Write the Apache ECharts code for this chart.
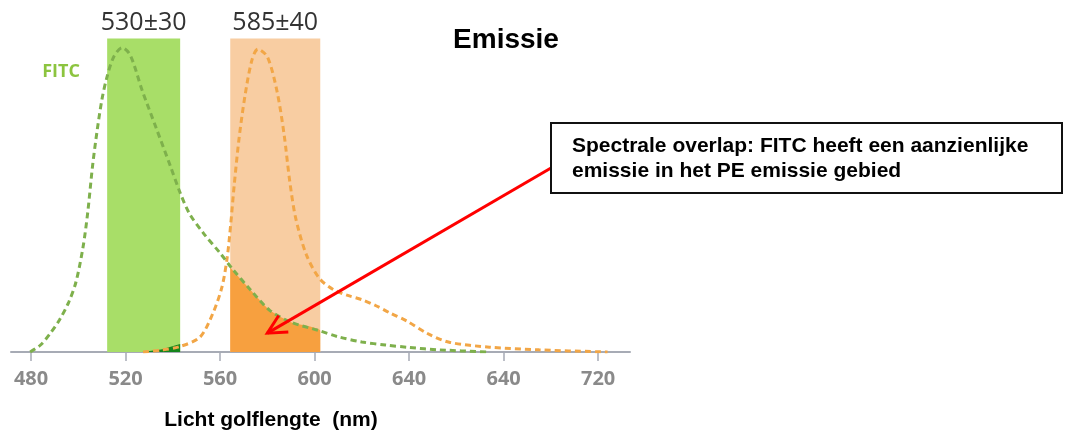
<!DOCTYPE html>
<html>
<head>
<meta charset="utf-8">
<style>
  html, body { margin: 0; padding: 0; background: #ffffff; }
  #chart { width: 1071px; height: 434px; }
</style>
<script src="https://cdn.jsdelivr.net/npm/echarts@6/dist/echarts.min.js"></script>
</head>
<body>
<div id="chart"></div>
<script>
// ---- data (wavelength in nm, relative emission) ----
const tickValues = [480, 520, 560, 600, 640, 680, 720];
const tickLabels = ['480', '520', '560', '600', '640', '640', '720'];

const fitcEmission = [
  [479.6, 0], [484, 2.3], [488, 6], [492, 10.5], [496, 16.5], [499, 23], [502, 34.5],
  [504, 46], [506, 61], [508, 73], [510, 83], [512, 90], [515, 97], [518.5, 100],
  [522, 97.5], [527, 86], [533, 73.5], [539, 61], [543, 52.5], [547, 45.5], [553, 39],
  [560, 32.5], [565, 27.5], [573, 20.3], [581, 13.7], [590, 9.8], [602, 7], [610, 5],
  [620, 3.3], [630, 2.3], [640, 1.5], [653, 0.7], [674, 0]
];

const peEmission = [
  [527.4, 0], [535, 0.6], [543, 1.8], [551.5, 4.9], [557, 12.8], [560.8, 21.4], [563, 31],
  [564.5, 42], [566, 55], [568, 70], [570.5, 84], [573.5, 96], [576, 99.5], [580, 97],
  [584, 86], [587, 72], [589.5, 56], [592, 44], [596.5, 32], [602, 24.2], [608, 20.5],
  [614, 18.6], [620, 17.2], [626, 15.2], [632, 12.8], [639, 10.2], [647.5, 6.2],
  [657, 3.2], [674, 1.6], [695, 0.7], [724, 0]
];

// filter bands
const bandNames = ['530±30', '585±40'];
const bandRanges = [[512.2, 543.1], [564.3, 602.4]];
const bandTop = 103;

// overlap fills (area under curves inside the other filter band)
const fitcInPeBand = [[564.3, 0], [564.3, 27.8], [573, 20.3], [581, 13.7], [590, 9.8], [602.4, 7], [602.4, 0]];
const peInFitcBand = [[527, 0], [535, 0.8], [543.1, 2.6], [543.1, 0]];

// ---- chart ----
const chart = echarts.init(document.getElementById('chart'));

const option = {
  backgroundColor: '#ffffff',
  animation: false,
  grid: { left: 11, right: 441, top: 2, bottom: 82, outerBoundsMode: 'none' },
  xAxis: {
    type: 'value',
    min: 471.5,
    max: 733.5,
    splitLine: { show: false },
    axisLine: { show: true, onZero: false, lineStyle: { color: '#a7abb5', width: 2 } },
    axisTick: { show: true, length: 9, customValues: tickValues, lineStyle: { color: '#a7abb5', width: 1.5 } },
    axisLabel: {
      customValues: tickValues,
      margin: 17,
      color: '#8a8a8a',
      fontFamily: 'Open Sans',
      fontWeight: 'bold',
      fontSize: 20,
      formatter: (v) => tickLabels[tickValues.indexOf(v)]
    }
  },
  yAxis: { type: 'value', min: 0, max: 115, show: false, splitLine: { show: false } },
  series: [
    {
      name: 'bands', type: 'line', data: [], z: 1, silent: true,
      markArea: {
        silent: true,
        label: {
          show: true, position: 'top', distance: 3,
          color: '#333333', fontFamily: 'Open Sans', fontSize: 25
        },
        data: [
          [{ name: bandNames[0], xAxis: bandRanges[0][0], yAxis: 0, itemStyle: { color: '#a8de68', opacity: 1 } },
           { xAxis: bandRanges[0][1], yAxis: bandTop }],
          [{ name: bandNames[1], xAxis: bandRanges[1][0], yAxis: 0, itemStyle: { color: '#f8cda2', opacity: 1 } },
           { xAxis: bandRanges[1][1], yAxis: bandTop }]
        ]
      }
    },
    {
      name: 'overlapPE', type: 'line', z: 2, data: fitcInPeBand, smooth: 0.2,
      showSymbol: false, lineStyle: { width: 0 },
      areaStyle: { color: '#f7a03f', opacity: 1 }
    },
    {
      name: 'overlapFITC', type: 'line', z: 2, data: peInFitcBand, smooth: false,
      showSymbol: false, lineStyle: { width: 0 },
      areaStyle: { color: '#15851c', opacity: 1 }
    },
    {
      name: 'PE', type: 'line', z: 3, data: peEmission, smooth: 0.3,
      showSymbol: false,
      lineStyle: { color: '#f2a646', width: 3, type: [6, 4] }
    },
    {
      name: 'FITC', type: 'line', z: 4, data: fitcEmission, smooth: 0.3,
      showSymbol: false,
      lineStyle: { color: '#7eb04c', width: 3, type: [6, 4] }
    }
  ],
  graphic: [
    { type: 'text', x: 61, y: 72, style: { text: 'FITC', fill: '#8cc43f', font: 'bold 18px "Open Sans"', textAlign: 'center', textVerticalAlign: 'middle' } },
    { type: 'text', x: 302, y: 73, style: { text: 'PE', fill: '#f3ae5e', font: 'bold 18px "Open Sans"', textAlign: 'center', textVerticalAlign: 'middle' } },
    { type: 'text', x: 506, y: 40, style: { text: 'Emissie', fill: '#000000', font: 'bold 28px "Liberation Sans", Arial', textAlign: 'center', textVerticalAlign: 'middle' } },
    { type: 'text', x: 271, y: 420, style: { text: 'Licht golflengte  (nm)', fill: '#000000', font: 'bold 21px "Liberation Sans", Arial', textAlign: 'center', textVerticalAlign: 'middle' } },
    { type: 'rect', shape: { x: 551, y: 123, width: 511, height: 70 }, style: { fill: '#ffffff', stroke: '#111111', lineWidth: 2 }, z: 10 },
    { type: 'text', x: 572, y: 146, z: 11, style: { text: 'Spectrale overlap: FITC heeft een aanzienlijke', fill: '#000000', font: 'bold 21px "Liberation Sans", Arial', textVerticalAlign: 'middle' } },
    { type: 'text', x: 572, y: 171, z: 11, style: { text: 'emissie in het PE emissie gebied', fill: '#000000', font: 'bold 21px "Liberation Sans", Arial', textVerticalAlign: 'middle' } }
  ]
};
chart.setOption(option);

// annotation arrow: from the box edge to a point inside the overlap area
const arrowTarget = [580, 6.2];
const tip = chart.convertToPixel({ gridIndex: 0 }, arrowTarget);
const start = [551, 168];
const ang = Math.atan2(start[1] - tip[1], start[0] - tip[0]);
const headLen = 21, spread = 0.47;
const a1 = [tip[0] + headLen * Math.cos(ang + spread), tip[1] + headLen * Math.sin(ang + spread)];
const a2 = [tip[0] + headLen * Math.cos(ang - spread), tip[1] + headLen * Math.sin(ang - spread)];
chart.setOption({
  graphic: option.graphic.concat([
    { type: 'line', z: 9, shape: { x1: start[0], y1: start[1], x2: tip[0], y2: tip[1] }, style: { stroke: '#ff0000', lineWidth: 3 } },
    { type: 'polyline', z: 9, shape: { points: [a1, tip, a2] }, style: { stroke: '#ff0000', lineWidth: 3, fill: null, lineJoin: 'miter' } }
  ])
}, { replaceMerge: ['graphic'] });
</script>
</body>
</html>
